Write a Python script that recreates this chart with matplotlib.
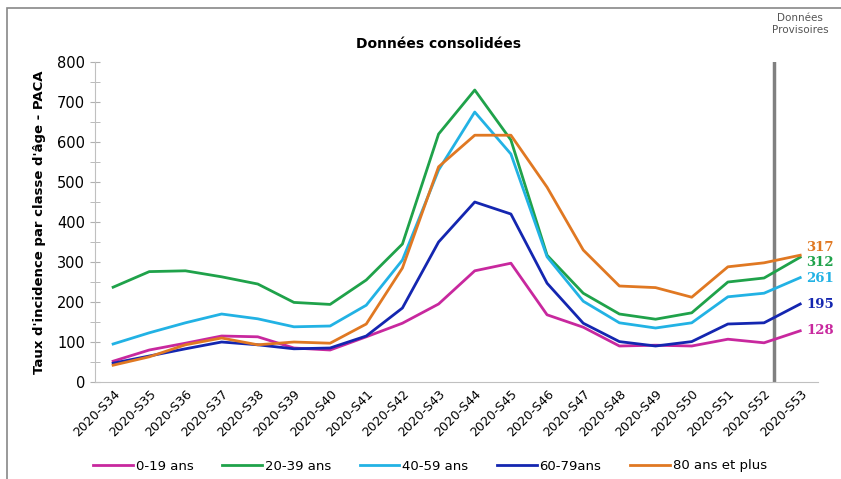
import numpy as np
import matplotlib.pyplot as plt
from matplotlib.patches import Rectangle
from matplotlib.ticker import MultipleLocator

# weeks and incidence rates per age class
weeks = ['2020-S34', '2020-S35', '2020-S36', '2020-S37', '2020-S38', '2020-S39', '2020-S40',
         '2020-S41', '2020-S42', '2020-S43', '2020-S44', '2020-S45', '2020-S46', '2020-S47',
         '2020-S48', '2020-S49', '2020-S50', '2020-S51', '2020-S52', '2020-S53']

age_0_19 = [52, 80, 97, 115, 113, 85, 80, 113, 147, 195, 278, 297, 168, 137, 90, 92, 90, 107, 98, 128]
age_20_39 = [237, 276, 278, 263, 245, 199, 194, 255, 345, 620, 730, 605, 317, 222, 170, 157, 173, 250, 260, 312]
age_40_59 = [95, 123, 148, 170, 158, 138, 140, 192, 305, 530, 675, 570, 313, 202, 148, 135, 148, 213, 222, 261]
age_60_79 = [47, 65, 83, 100, 93, 83, 85, 115, 185, 350, 450, 420, 247, 147, 101, 90, 101, 145, 148, 195]
age_80_plus = [42, 63, 93, 110, 93, 100, 97, 145, 285, 538, 617, 617, 487, 330, 240, 236, 212, 288, 298, 317]

labels = ['0-19 ans', '20-39 ans', '40-59 ans', '60-79ans', '80 ans et plus']
colors = ['#C8289E', '#1FA24A', '#22B2E4', '#1426B0', '#E07822']
series = [age_0_19, age_20_39, age_40_59, age_60_79, age_80_plus]

fig = plt.figure(figsize=(8.41, 4.79), dpi=100)
ax = fig.add_axes([0.113, 0.2025, 0.86, 0.668])

x = np.arange(len(weeks))
for vals, lab, col in zip(series, labels, colors):
    ax.plot(x, vals, color=col, lw=2, label=lab)

# provisional data separator
ax.axvline(18.28, color='#808080', lw=2.5, zorder=1)

ax.set_xlim(-0.5, 19.5)
ax.set_ylim(0, 800)
ax.yaxis.set_major_locator(MultipleLocator(100))
ax.yaxis.set_minor_locator(MultipleLocator(50))
ax.tick_params(axis='y', which='both', direction='inout', length=7, color='#b0b0b0', labelsize=10.5)
ax.tick_params(axis='x', length=0, labelsize=9, pad=4)
ax.set_xticks(x)
ax.set_xticklabels(weeks, rotation=45, ha='right', rotation_mode='anchor')

for s in ['top', 'right']:
    ax.spines[s].set_visible(False)
for s in ['left', 'bottom']:
    ax.spines[s].set_color('#c0c0c0')

ax.set_ylabel("Taux d'incidence par classe d'âge - PACA", fontsize=9.5, fontweight='bold', labelpad=8)

# last values at the right end
last_y = {'317': (248, colors[4]), '312': (262, colors[1]), '261': (279, colors[2]),
          '195': (304, colors[3]), '128': (331, colors[0])}
for txt, (py, col) in last_y.items():
    fig.text(806 / 841, 1 - py / 479, txt, color=col, fontsize=9.5, fontweight='bold',
             family='DejaVu Serif', va='center', ha='left')

fig.text(438 / 841, 1 - 44 / 479, 'Données consolidées', fontsize=10, fontweight='bold', ha='center', va='center')
fig.text(800 / 841, 1 - 24 / 479, 'Données\nProvisoires', fontsize=7.5, color='#555555', ha='center', va='center')

fig.legend(loc='center', bbox_to_anchor=(430 / 841, 1 - 466 / 479), ncol=5, frameon=False,
           fontsize=9.5, handlelength=3, columnspacing=2.2, handletextpad=0.2)

# outer frame
fig.patches.append(Rectangle((7 / 841, -0.1), 1.2, 1.1 - 8 / 479, transform=fig.transFigure,
                             fill=False, edgecolor='#888888', lw=1.2))

fig.savefig('out.png', dpi=100)
